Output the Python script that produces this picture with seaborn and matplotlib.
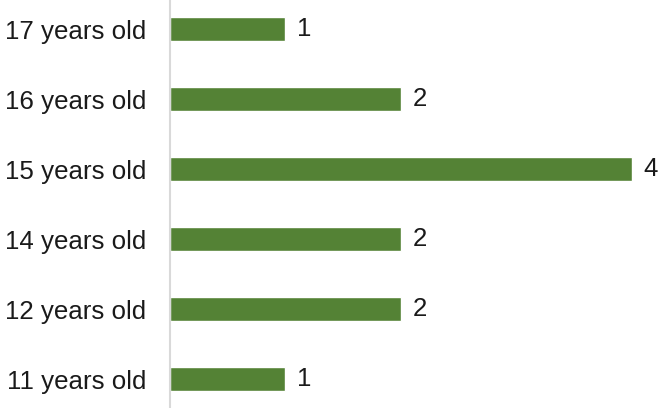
import pandas as pd
import matplotlib.pyplot as plt
import seaborn as sns

# Dados
categorias = ['17 years old', '16 years old', '15 years old',
              '14 years old', '12 years old', '11 years old']
valores = [1, 2, 4, 2, 2, 1]

df = pd.DataFrame({'idade': categorias, 'qtd': valores})

sns.set_style('white')
plt.rcParams['font.family'] = ['Liberation Sans', 'DejaVu Sans']

fig = plt.figure(figsize=(6.59, 4.08), dpi=100)
ax = fig.add_axes([170 / 659, -6 / 408, 485 / 659, 420 / 408])

sns.barplot(data=df, x='qtd', y='idade', color='#548235', saturation=1,
            width=0.34, ax=ax)

ax.bar_label(ax.containers[0], fmt='%d', padding=8.5, fontsize=18.6,
             color='#1a1a1a')

ax.set_xlim(0, 4.2)
ax.set_ylim(5.5, -0.5)
ax.set_xlabel('')
ax.set_ylabel('')
ax.set_xticks([])
ax.tick_params(axis='y', length=0, pad=17, labelsize=18.6, labelcolor='#1a1a1a')

for lado in ['top', 'right', 'bottom']:
    ax.spines[lado].set_visible(False)
ax.spines['left'].set_color('#d9d9d9')
ax.spines['left'].set_linewidth(1.5)

fig.savefig('out.png', dpi=100)
